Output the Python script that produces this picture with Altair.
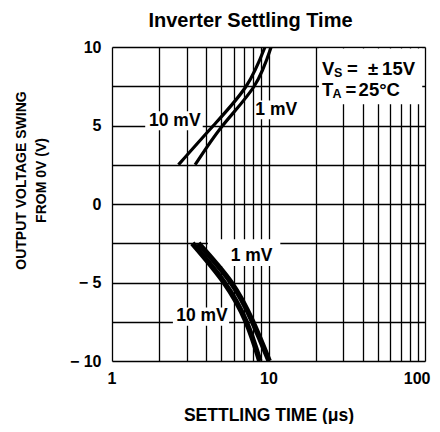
import altair as alt
import pandas as pd

FONT = "'Liberation Sans', Arial, Helvetica, sans-serif"

# ---- data (settling time in µs, output swing in V) ----
up10_t = [2.66, 4.45, 7.2, 9.5]
up10_v = [2.5, 5.0, 7.5, 10.0]
up1_t = [3.4, 5.1, 8.1, 10.4]
up1_v = [2.5, 5.0, 7.5, 10.0]
lo10_t = [3.26, 5.21, 7.2, 8.8]
lo10_v = [-2.5, -5.0, -7.5, -10.0]
lo1_t = [3.56, 5.77, 7.92, 10.1]
lo1_v = [-2.5, -5.0, -7.5, -10.0]

x_grid = [1, 2, 3, 4, 5, 6, 7, 8, 9, 10, 20, 30, 40, 50, 60, 70, 80, 90, 100]
y_grid = [-10, -7.5, -5, -2.5, 0, 2.5, 5, 7.5, 10]

label_text = ["10 mV", "1 mV", "1 mV", "10 mV"]
label_t = [2.52, 11.2, 7.8, 3.76]
label_v = [5.28, 5.98, -3.32, -7.16]

# white label backgrounds (interrupt the grid as in the original)
box_t = [1.63, 8.3, 4.1, 2.45, 21.0]
box_t2 = [3.8, 15.0, 11.9, 5.6, 96.0]
box_v = [4.7, 5.4, -2.25, -6.6, 6.35]
box_v2 = [5.9, 6.6, -3.95, -7.75, 9.9]

cond_anchor_t = [22.0]
cond_v1 = [8.59]
cond_v2 = [7.25]

# ---- tables ----
upper = pd.concat([
    pd.DataFrame({"t": up10_t, "v": up10_v, "curve": "10 mV up"}),
    pd.DataFrame({"t": up1_t, "v": up1_v, "curve": "1 mV up"}),
])
lower = pd.concat([
    pd.DataFrame({"t": lo10_t, "v": lo10_v, "curve": "10 mV down"}),
    pd.DataFrame({"t": lo1_t, "v": lo1_v, "curve": "1 mV down"}),
])
labels = pd.DataFrame({"t": label_t, "v": label_v, "text": label_text})
boxes = pd.DataFrame({"t": box_t, "t2": box_t2, "v": box_v, "v2": box_v2})

xscale = alt.Scale(type="log", domain=[1, 100], nice=False)
yscale = alt.Scale(domain=[-10, 10], nice=False)

xaxis = alt.Axis(
    values=x_grid, grid=True, ticks=False, domain=False,
    labelExpr="(datum.value == 1 || datum.value == 10 || datum.value == 100) ? format(datum.value, 'd') : ''",
    labelFont=FONT, labelFontSize=16, labelFontWeight="bold", labelColor="black",
    labelPadding=9, labelOverlap=False, labelFlush=True, labelFlushOffset=5, labelBound=False,
    title="SETTLING TIME (μs)", titleFont=FONT, titleFontSize=17.5, titleFontWeight="bold",
    titleColor="black", titlePadding=20,
    gridColor="black", gridWidth=1.3, gridOpacity=1,
)
yaxis = alt.Axis(
    values=y_grid, grid=True, ticks=False, domain=False,
    labelExpr="(datum.value % 5 != 0) ? '' : (datum.value < 0 ? '\u2212 ' + format(-datum.value, 'd') : format(datum.value, 'd'))",
    labelFont=FONT, labelFontSize=16, labelFontWeight="bold", labelColor="black",
    labelPadding=11, labelOverlap=False, labelFlush=False, labelBound=False,
    title=["OUTPUT VOLTAGE SWING", "FROM 0V (V)"], titleFont=FONT, titleFontSize=14,
    titleFontWeight="bold", titleColor="black", titleLineHeight=20,
    titleAngle=270, titleAlign="center", titleBaseline="alphabetic",
    titleX=-87, titleY=133,
    gridColor="black", gridWidth=1.3, gridOpacity=1,
)

X = alt.X("t:Q", scale=xscale, axis=xaxis)
Y = alt.Y("v:Q", scale=yscale, axis=yaxis)

rects = alt.Chart(boxes).mark_rect(color="white", opacity=1).encode(
    x=X, x2="t2:Q", y=Y, y2="v2:Q"
)

up_lines = alt.Chart(upper).mark_line(
    color="black", strokeWidth=3.2, interpolate="natural", strokeCap="butt", clip=True
).encode(x=X, y=Y, detail="curve:N")

lo_lines = alt.Chart(lower).mark_line(
    color="black", strokeWidth=5.5, interpolate="natural", strokeCap="butt", clip=True
).encode(x=X, y=Y, detail="curve:N")

texts = alt.Chart(labels).mark_text(
    font=FONT, fontSize=17.5, fontWeight="bold", color="black", align="center", baseline="middle"
).encode(x=X, y=Y, text="text:N")


def piece(txt, vlist, dx, dy=0, size=18.5):
    df = pd.DataFrame({"t": cond_anchor_t, "v": vlist, "text": [txt]})
    return alt.Chart(df).mark_text(
        font=FONT, fontSize=size, fontWeight="bold", color="black",
        align="left", baseline="middle", dx=dx, dy=dy
    ).encode(x=X, y=Y, text="text:N")


cond = [
    piece("V", cond_v1, 0),
    piece("S", cond_v1, 12, 4, 12.5),
    piece("=", cond_v1, 25),
    piece("±", cond_v1, 46),
    piece("15V", cond_v1, 60),
    piece("T", cond_v2, 0),
    piece("A", cond_v2, 10.5, 4, 12.5),
    piece("=", cond_v2, 23.5),
    piece("25°C", cond_v2, 36.5),
]

chart = alt.layer(rects, up_lines, lo_lines, texts, *cond).properties(
    width=313,
    height=314,
    title=alt.TitleParams(
        "Inverter Settling Time", font=FONT, fontSize=20, fontWeight="bold",
        color="black", anchor="middle", dx=-18, offset=-12, baseline="bottom"
    ),
    autosize=alt.AutoSizeParams(type="none"),
    padding={"left": 104, "top": 39, "right": 7, "bottom": 63},
).configure_view(stroke="black", strokeWidth=2).configure(background="white")

chart.save("out.html", embed_options={"renderer": "svg", "actions": False})
